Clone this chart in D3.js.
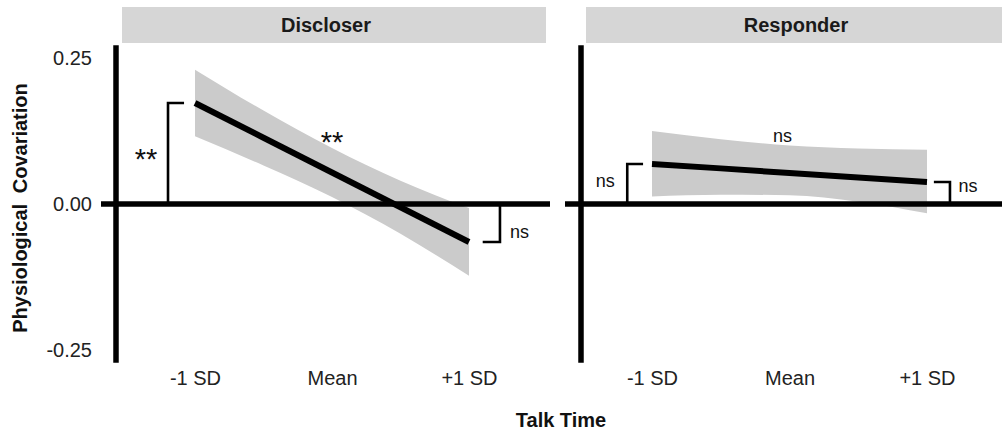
<!DOCTYPE html>
<html>
<head>
<meta charset="utf-8">
<script src="https://cdn.jsdelivr.net/npm/d3@7"></script>
<style>
  html, body { margin: 0; padding: 0; background: #ffffff; }
  svg { display: block; font-family: "Liberation Sans", Arial, Helvetica, sans-serif; }
</style>
</head>
<body>
<svg id="chart" width="1002" height="433"></svg>
<script>
// ---------------- data ----------------
const panelNames = ["Discloser", "Responder"];
const xTickValues = [-1, 0, 1];
const xTickLabels = ["-1 SD", "Mean", "+1 SD"];
const yTickValues = [-0.25, 0, 0.25];
const yTickLabels = ["-0.25", "0.00", "0.25"];

const bandX = [-1, -0.5, 0, 0.5, 1];
const discloserFit   = [0.173, 0.1135, 0.054, -0.0055, -0.065];
const discloserUpper = [0.230, 0.160, 0.096, 0.040, -0.007];
const discloserLower = [0.116, 0.066, 0.012, -0.051, -0.123];

const responderFit   = [0.0685, 0.061, 0.053, 0.0455, 0.0377];
const responderUpper = [0.125, 0.111, 0.100, 0.095, 0.093];
const responderLower = [0.013, 0.016, 0.015, 0.004, -0.016];

// significance labels: [at -1 SD, slope, at +1 SD]
const discloserSig = ["**", "**", "ns"];
const responderSig = ["ns", "ns", "ns"];

const yTitle = "Physiological Covariation";
const xTitle = "Talk Time";

// ---------------- layout ----------------
const svg = d3.select("#chart");
const y = d3.scaleLinear().domain([-0.25, 0.25]).range([350, 58]);
const yDomainTop = 0.272, yDomainBottom = -0.272;

const panels = [
  { name: panelNames[0], fit: discloserFit, upper: discloserUpper, lower: discloserLower, sig: discloserSig,
    range: [195, 469], strip: [122, 546], stripText: 326, axisX: 116, zero: [101, 550],
    bracketL: -1.197, bracketLEnd: -1.08, bracketR: 1.226, bracketRStart: 1.1,
    sigPos: [{dx: -22, dy: 169, size: 29}, {x: 0.0, y: 152, size: 29}, {dx: 10, dy: 238, size: 18}] },
  { name: panelNames[1], fit: responderFit, upper: responderUpper, lower: responderLower, sig: responderSig,
    range: [652, 927], strip: [586, 1010], stripText: 796, axisX: 581, zero: [565, 1002],
    bracketL: -1.18, bracketLEnd: -1.065, bracketR: 1.167, bracketRStart: 1.05,
    sigPos: [{dx: -22, dy: 187, size: 18}, {x: -0.05, y: 142, size: 18}, {dx: 18, dy: 192, size: 18}] }
];

const bandColor = "#cbcbcb";
const stripColor = "#d6d6d6";

panels.forEach(p => {
  const x = d3.scaleLinear().domain([-1, 1]).range(p.range);
  const g = svg.append("g");

  // strip
  g.append("rect")
    .attr("x", p.strip[0]).attr("y", 7)
    .attr("width", p.strip[1] - p.strip[0]).attr("height", 36)
    .attr("fill", stripColor);
  g.append("text")
    .attr("x", p.stripText).attr("y", 32)
    .attr("text-anchor", "middle")
    .attr("font-size", 20).attr("font-weight", "bold")
    .attr("fill", "#1a1a1a")
    .text(p.name);

  const rows = bandX.map((v, i) => ({ x: v, fit: p.fit[i], lo: p.lower[i], hi: p.upper[i] }));

  // confidence band
  g.append("path")
    .datum(rows)
    .attr("d", d3.area().x(d => x(d.x)).y0(d => y(d.lo)).y1(d => y(d.hi)).curve(d3.curveMonotoneX))
    .attr("fill", bandColor);

  // zero line
  g.append("line")
    .attr("x1", p.zero[0]).attr("x2", p.zero[1])
    .attr("y1", y(0)).attr("y2", y(0))
    .attr("stroke", "#000").attr("stroke-width", 5.5);

  // fitted line
  g.append("path")
    .datum(rows)
    .attr("d", d3.line().x(d => x(d.x)).y(d => y(d.fit)))
    .attr("fill", "none").attr("stroke", "#000").attr("stroke-width", 6);

  // vertical axis line
  g.append("line")
    .attr("x1", p.axisX).attr("x2", p.axisX)
    .attr("y1", y(yDomainTop)).attr("y2", y(yDomainBottom))
    .attr("stroke", "#000").attr("stroke-width", 5.5);

  // brackets
  const fitLeft = p.fit[0], fitRight = p.fit[p.fit.length - 1];
  g.append("path")
    .attr("d", d3.line()([[x(p.bracketL), y(0)], [x(p.bracketL), y(fitLeft)], [x(p.bracketLEnd), y(fitLeft)]]))
    .attr("fill", "none").attr("stroke", "#000").attr("stroke-width", 2.6);
  g.append("path")
    .attr("d", d3.line()([[x(p.bracketRStart), y(fitRight)], [x(p.bracketR), y(fitRight)], [x(p.bracketR), y(0)]]))
    .attr("fill", "none").attr("stroke", "#000").attr("stroke-width", 2.6);

  // significance labels
  const s = p.sigPos;
  g.append("text").attr("x", x(p.bracketL) + s[0].dx).attr("y", s[0].dy)
    .attr("text-anchor", "middle").attr("font-size", s[0].size).attr("fill", "#111").text(p.sig[0]);
  g.append("text").attr("x", x(s[1].x)).attr("y", s[1].y)
    .attr("text-anchor", "middle").attr("font-size", s[1].size).attr("fill", "#111").text(p.sig[1]);
  g.append("text").attr("x", x(p.bracketR) + s[2].dx).attr("y", s[2].dy)
    .attr("text-anchor", p.name === "Discloser" ? "start" : "middle")
    .attr("font-size", s[2].size).attr("fill", "#111").text(p.sig[2]);

  // x axis tick labels
  const xAxis = d3.axisBottom(x).tickValues(xTickValues)
    .tickFormat((d, i) => xTickLabels[i]).tickSize(0).tickPadding(8);
  const xg = g.append("g").attr("transform", `translate(0,${y(yDomainBottom)})`).call(xAxis);
  xg.select(".domain").remove();
  xg.selectAll("text").attr("font-size", 20).attr("fill", "#222")
    .attr("font-family", "Liberation Sans, Arial, sans-serif");
});

// y axis tick labels (left panel only)
const yAxis = d3.axisLeft(y).tickValues(yTickValues)
  .tickFormat((d, i) => yTickLabels[i]).tickSize(0).tickPadding(24);
const yg = svg.append("g").attr("transform", `translate(${panels[0].axisX},0)`).call(yAxis);
yg.select(".domain").remove();
yg.selectAll("text").attr("font-size", 20).attr("fill", "#222")
  .attr("font-family", "Liberation Sans, Arial, sans-serif");

// axis titles
svg.append("text")
  .attr("transform", "translate(27,208) rotate(-90)")
  .attr("text-anchor", "middle")
  .attr("font-size", 20).attr("font-weight", "bold").attr("fill", "#111")
  .attr("word-spacing", 5)
  .text(yTitle);
svg.append("text")
  .attr("x", 561).attr("y", 427)
  .attr("text-anchor", "middle")
  .attr("font-size", 20).attr("font-weight", "bold").attr("fill", "#111")
  .text(xTitle);
</script>
</body>
</html>
